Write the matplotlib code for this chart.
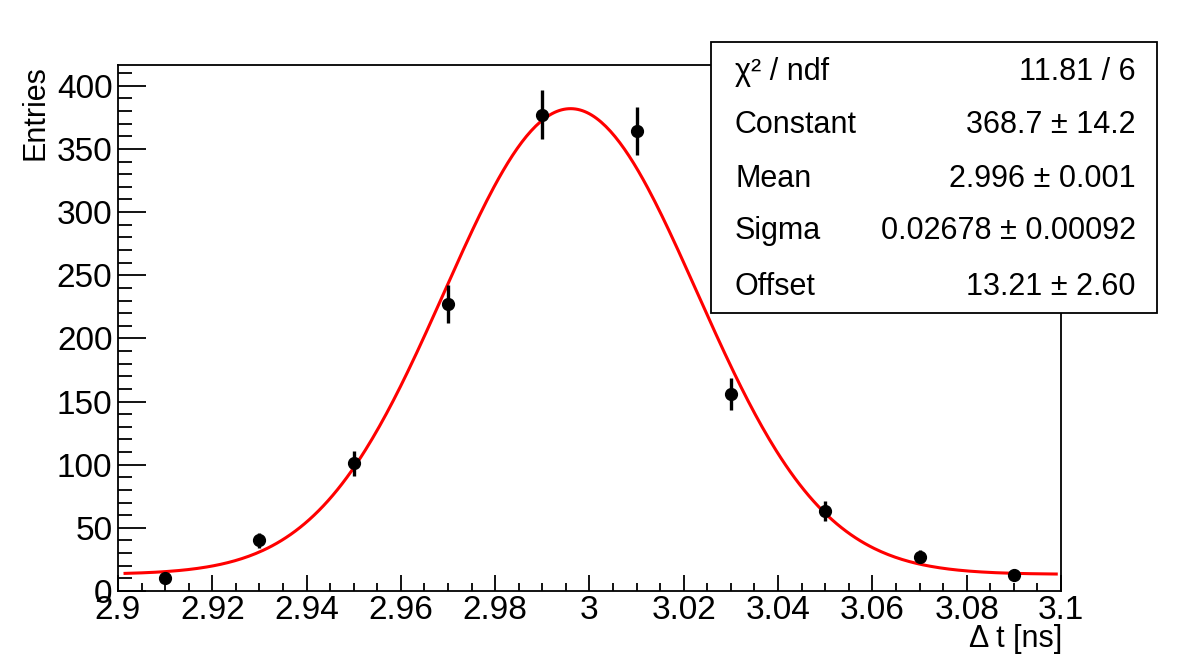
import numpy as np
import matplotlib
matplotlib.use('Agg')
import matplotlib.pyplot as plt
from matplotlib.patches import Rectangle
from matplotlib.ticker import MultipleLocator, FormatStrFormatter

plt.rcParams['font.family'] = ['Liberation Sans', 'DejaVu Sans']

# data
x_centers = [2.91, 2.93, 2.95, 2.97, 2.99, 3.01, 3.03, 3.05, 3.07, 3.09]
entries = [10, 40, 101, 227, 377, 364, 156, 63, 27, 13]
errors = [3.2, 6.3, 10.0, 15.0, 19.4, 19.1, 12.5, 7.9, 5.2, 3.6]

# fit parameters (gaus + offset)
fit_const, fit_mean, fit_sigma, fit_offset = 368.7, 2.996, 0.02678, 13.21

stat_names = ['χ² / ndf', 'Constant', 'Mean', 'Sigma', 'Offset']
stat_values = ['11.81 / 6', '368.7 ± 14.2', '2.996 ± 0.001',
               '0.02678 ± 0.00092', '13.21 ± 2.60']

fig = plt.figure(figsize=(11.82, 6.59), dpi=100)
ax = fig.add_axes([0.0998, 0.1032, 0.7978, 0.7982])

xf = np.linspace(2.9015, 3.099, 400)
yf = fit_const * np.exp(-0.5 * ((xf - fit_mean) / fit_sigma) ** 2) + fit_offset
ax.plot(xf, yf, color='red', lw=2.2, zorder=2)

ax.errorbar(x_centers, entries, yerr=errors, fmt='o', color='black',
            ms=8.5, elinewidth=2.4, capsize=0, zorder=3)

ax.set_xlim(2.9, 3.1)
ax.set_ylim(0, 416.5)

ax.xaxis.set_major_locator(MultipleLocator(0.02))
ax.xaxis.set_minor_locator(MultipleLocator(0.005))
ax.yaxis.set_major_locator(MultipleLocator(50))
ax.yaxis.set_minor_locator(MultipleLocator(10))
ax.xaxis.set_major_formatter(FormatStrFormatter('%g'))

ax.tick_params(axis='x', which='major', direction='in', length=11.5, width=1.3,
               labelsize=24, pad=3, top=False)
ax.tick_params(axis='x', which='minor', direction='in', length=5.8, width=1.3, top=False)
ax.tick_params(axis='y', which='major', direction='in', length=20, width=1.3,
               labelsize=24, pad=4, right=False)
ax.tick_params(axis='y', which='minor', direction='in', length=10, width=1.3, right=False)
for s in ax.spines.values():
    s.set_linewidth(1.3)

fig.text(0.030, 0.9014, 'Entries', rotation=90, ha='center', va='top', fontsize=22)
fig.text(0.8985, 0.008, 'Δ t [ns]', ha='right', va='bottom', fontsize=22)

# stats box
bx0, by0, bx1, by1 = 0.6015, 0.525, 0.9788, 0.9363
fig.add_artist(Rectangle((bx0, by0), bx1 - bx0, by1 - by0, transform=fig.transFigure,
                         facecolor='white', edgecolor='black', lw=1.3, zorder=5))
row_y = [72, 125, 179, 231, 287]
for name, val, py in zip(stat_names, stat_values, row_y):
    yy = 1 - py / 659
    fig.text(735 / 1182, yy, name, ha='left', va='center', fontsize=22, zorder=6)
    fig.text(1136 / 1182, yy, val, ha='right', va='center', fontsize=22, zorder=6)

fig.savefig('out.png', dpi=100)
